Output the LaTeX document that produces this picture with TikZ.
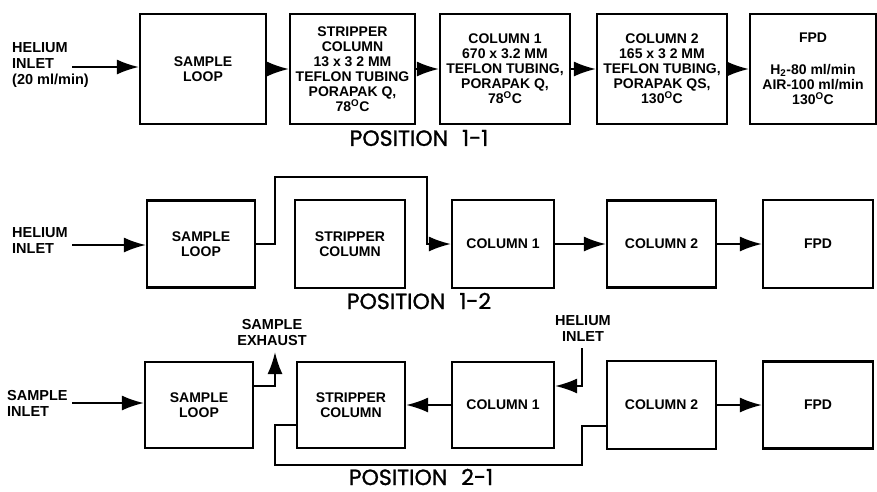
\documentclass[tikz,border=0pt]{standalone}
\usepackage{fontspec}
\setmainfont{Liberation Sans}
\newfontfamily\posfont[FakeBold=1.2]{Poppins}
\usetikzlibrary{arrows.meta}
\tikzset{
  box/.style={draw, line width=2.2pt, inner sep=0pt, align=center,
    font=\bfseries\fontsize{14}{15}\selectfont},
  lbl/.style={inner sep=0pt, font=\bfseries\fontsize{14.5}{16}\selectfont},
  wire/.style={line width=2pt},
  arr/.style={wire, -{Latex[length=22pt,width=15pt]}},
  poslabel/.style={inner sep=0pt, font=\posfont\fontsize{22}{24}\selectfont}
}
\begin{document}
\begin{tikzpicture}[x=1pt,y=-1pt]
\useasboundingbox (0,0) rectangle (877,491);
% ---------- POSITION 1-1 ----------
\node[lbl, anchor=west, align=left] (hel1) at (12,65) {HELIUM\\INLET\\(20 ml/min)};
\node[box, minimum width=126pt, minimum height=110pt] (loop1) at (203,69) {SAMPLE\\LOOP};
\node[box, minimum width=125pt, minimum height=110pt] (strip1) at (352.5,69)
  {STRIPPER\\COLUMN\\13 x 3 2 MM\\TEFLON TUBING\\PORAPAK Q,\\78\textsuperscript{O}C};
\node[box, minimum width=130pt, minimum height=110pt] (col1a) at (505,69)
  {COLUMN 1\\670 x 3.2 MM\\TEFLON TUBING,\\PORAPAK Q,\\78\textsuperscript{O}C};
\node[box, minimum width=130pt, minimum height=110pt] (col2a) at (662,69)
  {COLUMN 2\\165 x 3 2 MM\\TEFLON TUBING,\\PORAPAK QS,\\130\textsuperscript{O}C};
\node[box, minimum width=126pt, minimum height=110pt] (fpd1) at (813,69)
  {FPD\\[17pt]H\textsubscript{2}-80 ml/min\\AIR-100 ml/min\\130\textsuperscript{O}C};
\coordinate (a1) at (72,67);
\draw[arr] (a1) -- (a1 -| loop1.west);
\draw[arr] (loop1.east) -- (strip1.west);
\draw[arr] (strip1.east) -- (col1a.west);
\draw[arr] (col1a.east) -- (col2a.west);
\draw[arr] (col2a.east) -- (fpd1.west);
\node[poslabel] (p11) at (419,138) {POSITION\hspace{14pt}1-1};
% ---------- POSITION 1-2 ----------
\node[lbl, anchor=west, align=left] (hel2) at (12,241) {HELIUM\\INLET};
\node[box, minimum width=108pt, minimum height=87pt] (loop2) at (201,244) {SAMPLE\\LOOP};
\node[box, minimum width=110pt, minimum height=88pt] (strip2) at (350,244) {STRIPPER\\COLUMN};
\node[box, minimum width=102pt, minimum height=88pt] (col1b) at (503,244) {COLUMN 1};
\node[box, minimum width=109pt, minimum height=87pt] (col2b) at (661.5,244) {COLUMN 2};
\node[box, minimum width=110pt, minimum height=88pt] (fpd2) at (818,244) {FPD};
\coordinate (a2) at (72,245);
\draw[arr] (a2) -- (a2 -| loop2.west);
\coordinate (b1) at (275,177);
\coordinate (b2) at (427,177);
\draw[arr] (loop2.east) -| (b1) -- (b2) |- (col1b.west);
\draw[arr] (col1b.east) -- (col2b.west);
\draw[arr] (col2b.east) -- (fpd2.west);
\node[poslabel] (p12) at (419,301) {POSITION\hspace{14pt}1-2};
% ---------- POSITION 2-1 ----------
\node[lbl, anchor=west, align=left] (sin3) at (7,403) {SAMPLE\\INLET};
\node[box, minimum width=108pt, minimum height=86pt] (loop3) at (199,405) {SAMPLE\\LOOP};
\node[box, minimum width=108pt, minimum height=86pt] (strip3) at (351,405) {STRIPPER\\COLUMN};
\node[box, minimum width=102pt, minimum height=86pt] (col1c) at (503,405) {COLUMN 1};
\node[box, minimum width=109pt, minimum height=88pt] (col2c) at (661.5,405) {COLUMN 2};
\node[box, minimum width=110pt, minimum height=87pt] (fpd3) at (818,405) {FPD};
\coordinate (a3) at (72,403);
\draw[arr] (a3) -- (a3 -| loop3.west);
\node[lbl, align=center] (exl) at (272,332) {SAMPLE\\EXHAUST};
\coordinate (exh) at (275,352);
\draw[arr] ([yshift=19pt]loop3.east) -| (exh);
\node[lbl, align=center] (hil) at (583,329) {HELIUM\\INLET};
\coordinate (hin) at (582,348);
\draw[arr] (hin) |- ([yshift=19pt]col1c.east);
\draw[arr] (col1c.west) -- (strip3.east);
\draw[arr] (col2c.east) -- (fpd3.west);
\coordinate (r1) at (582,465);
\coordinate (r2) at (275,465);
\draw[wire] ([yshift=-21pt]col2c.west) -| (r1) -- (r2) |- ([yshift=-20pt]strip3.west);
\node[poslabel] (p21) at (421,477) {POSITION\hspace{14pt}2-1};
\end{tikzpicture}
\end{document}
